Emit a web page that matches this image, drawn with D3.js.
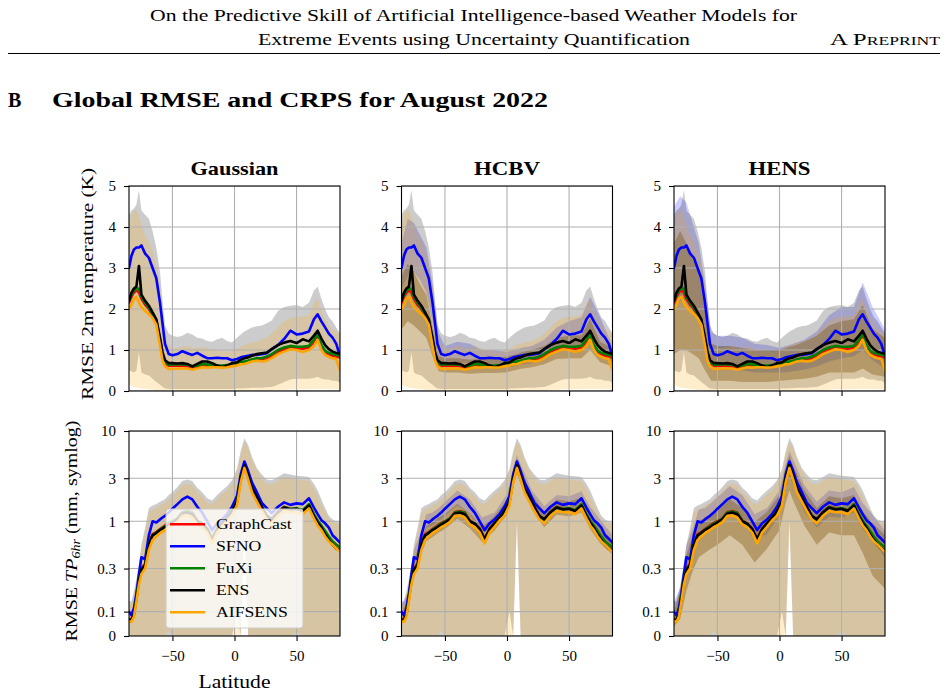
<!DOCTYPE html>
<html lang="en">
<head>
<meta charset="UTF-8">
<title>Global RMSE and CRPS for August 2022</title>
<script src="https://cdn.jsdelivr.net/npm/d3@7"></script>
<style>
  body { margin: 0; background: #fff; }
  text { font-family: "Liberation Serif", "DejaVu Serif", serif; fill: #000; }
  .grid line { stroke: #b0b0b0; stroke-width: 1.1; }
  .axis path { display: none; }
  .axis line { stroke: #000; stroke-width: 1.1; }
  .axis text { font-size: 15px; font-family: "Liberation Serif", serif; }
</style>
</head>
<body>
<script>
// ---- data ----
var latitude = [-85,-83,-81,-79,-77,-75,-72,-69,-66,-63,-60,-58,-56,-53,-50,-46,-42,-38,-34,-30,
  -26,-22,-18,-14,-10,-6,-2,2,5,8,11,14,18,22,26,30,35,40,45,50,55,60,64,67,70,73,76,79,82,85];
var latCoarse = [-85,-80,-75,-70,-65,-60,-55,-50,-40,-30,-20,-10,0,5,8,11,20,30,40,50,60,67,75,85];

var models = ["GraphCast", "SFNO", "FuXi", "ENS", "AIFSENS"];
var methods = ["Gaussian", "HCBV", "HENS"];
var t2mTicks = [0, 1, 2, 3, 4, 5];
var tpTicks = [0, 0.1, 0.3, 1, 3, 10];
var tpTickLabels = ["0", "0.1", "0.3", "1", "3", "10"];
var latTicks = [-50, 0, 50];

// RMSE 2m temperature (K)
var t2mGraphCast = [2.15,2.30,2.40,2.45,2.40, 2.25,2.10,2.00,1.85,1.70, 1.20,0.85,0.68,0.62,0.62, 0.62,0.62,0.60,0.56,0.58,
  0.62,0.62,0.60,0.60,0.60, 0.60,0.63,0.65,0.68,0.70, 0.73,0.76,0.78,0.78,0.80, 0.86,0.96,1.02,1.08,1.05,
  1.03,1.06,1.20,1.35,1.10, 0.95,0.90,0.86,0.84,0.82];
var t2mSfno = [3.00,3.30,3.45,3.50,3.50, 3.55,3.35,3.25,3.00,2.75, 2.15,1.65,1.15,0.90,0.87, 0.90,0.97,0.92,0.88,0.93,
  0.86,0.80,0.80,0.81,0.80, 0.80,0.75,0.78,0.82,0.84, 0.86,0.88,0.88,0.90,0.92, 1.02,1.12,1.27,1.47,1.38,
  1.40,1.45,1.75,1.87,1.70, 1.55,1.40,1.30,1.15,0.85];
var t2mFuxi = [2.20,2.35,2.45,2.50,2.50, 2.30,2.15,2.03,1.88,1.72, 1.25,0.90,0.70,0.64,0.65, 0.65,0.65,0.64,0.60,0.62,
  0.66,0.65,0.63,0.62,0.62, 0.63,0.66,0.68,0.70,0.72, 0.74,0.77,0.80,0.80,0.84, 0.90,1.00,1.06,1.10,1.08,
  1.08,1.10,1.25,1.40,1.12, 0.98,0.93,0.90,0.88,0.86];
var t2mEns = [2.20,2.40,2.50,2.55,3.05, 2.35,2.20,2.08,1.92,1.75, 1.30,0.95,0.75,0.68,0.68, 0.67,0.68,0.66,0.60,0.66,
  0.72,0.72,0.68,0.62,0.58, 0.62,0.68,0.70,0.76,0.80, 0.82,0.86,0.90,0.92,0.94, 1.02,1.12,1.18,1.22,1.17,
  1.26,1.21,1.35,1.47,1.28, 1.12,1.02,0.96,0.93,0.90];
var t2mAifsens = [2.00,2.10,2.25,2.30,2.15, 2.05,1.95,1.88,1.78,1.62, 1.10,0.75,0.60,0.54,0.54, 0.55,0.55,0.55,0.52,0.55,
  0.58,0.57,0.58,0.58,0.57, 0.58,0.60,0.62,0.65,0.66, 0.69,0.72,0.74,0.72,0.74, 0.80,0.90,0.96,1.02,1.00,
  0.95,1.00,1.10,1.25,1.00, 0.88,0.83,0.80,0.78,0.50];

// ensemble spread, 2m temperature
var t2mEnsLo = [0.50,0.48,0.45,0.50,0.95, 0.45,0.40,0.38,0.30,0.22, 0.15,0.10,0.06,0.05,0.05, 0.05,0.05,0.05,0.05,0.05,
  0.05,0.05,0.05,0.05,0.05, 0.05,0.05,0.06,0.06,0.07, 0.07,0.08,0.08,0.08,0.09, 0.10,0.15,0.22,0.28,0.30,
  0.30,0.30,0.32,0.35,0.30, 0.28,0.28,0.25,0.25,0.20];
var t2mEnsHi = [4.30,4.40,4.45,4.55,4.90, 4.40,4.30,4.20,3.90,3.50, 2.90,2.20,1.60,1.40,1.35, 1.32,1.35,1.42,1.38,1.30,
  1.28,1.22,1.20,1.26,1.30, 1.22,1.18,1.30,1.38,1.45, 1.50,1.55,1.58,1.60,1.65, 1.72,1.95,2.05,2.08,2.10,
  2.05,2.15,2.45,2.55,2.25, 2.00,1.80,1.70,1.55,1.40];
var t2mAifsLo = [0.15,0.12,0.10,0.08,0.08, 0.06,0.05,0.04,0.03,0.02, 0.02,0.01,0.01,0.01,0.01, 0.01,0.01,0.01,0.01,0.01,
  0.01,0.01,0.01,0.01,0.01, 0.01,0.01,0.01,0.01,0.01, 0.01,0.01,0.01,0.01,0.01, 0.01,0.02,0.03,0.04,0.04,
  0.04,0.05,0.05,0.05,0.05, 0.05,0.05,0.04,0.04,0.03];
var t2mAifsHi = [4.00,4.30,4.40,4.40,4.25, 4.05,3.80,3.65,3.40,3.05, 2.60,1.90,1.35,1.12,1.05, 1.05,1.08,1.10,1.05,1.05,
  1.08,1.05,1.00,1.00,0.98, 0.95,0.98,1.02,1.08,1.12, 1.15,1.18,1.20,1.25,1.30, 1.40,1.55,1.70,1.78,1.82,
  1.82,1.85,2.15,2.25,1.95, 1.75,1.60,1.50,1.45,1.35];

// uncertainty bands of the deterministic models, 2m temperature
var t2mHcbvSfnoLo = [2.5,2.8,2.9,2.7,2.4, 1.7,0.75,0.65,0.7,0.68, 0.6,0.6,0.58,0.6,0.62, 0.64,0.68,0.78,0.95,1.05, 1.1,1.4,1.0,0.7];
var t2mHcbvSfnoHi = [3.6,4.2,4.1,3.8,3.5, 2.6,1.4,1.1,1.2,1.15, 1.0,1.0,0.95,1.0,1.02, 1.05,1.1,1.25,1.55,1.7, 1.8,2.3,1.8,1.1];
var t2mHcbvDetLo = [1.5,1.7,1.6,1.45,1.3, 0.85,0.48,0.45,0.45,0.42, 0.44,0.44,0.46,0.5,0.52, 0.54,0.58,0.65,0.78,0.8, 0.8,1.0,0.7,0.6];
var t2mHcbvDetHi = [2.8,3.1,2.9,2.6,2.35, 1.6,0.85,0.8,0.8,0.76, 0.8,0.8,0.84,0.88,0.9, 0.94,1.0,1.1,1.3,1.35, 1.36,1.75,1.2,1.05];
var t2mHensSfnoLo = [2.0,2.2,2.2,2.0,1.8, 1.2,0.55,0.5,0.52,0.5, 0.45,0.45,0.45,0.46,0.47, 0.48,0.52,0.6,0.72,0.8, 0.85,1.0,0.75,0.55];
var t2mHensSfnoHi = [4.5,4.75,4.6,4.1,3.6, 2.6,1.45,1.35,1.35,1.3, 1.15,1.12,1.05,1.1,1.12, 1.15,1.25,1.45,1.85,2.05, 2.05,2.65,2.05,1.5];
var t2mHensDetLo = [0.9,1.0,1.0,0.9,0.8, 0.5,0.25,0.25,0.25,0.22, 0.22,0.22,0.25,0.26,0.27, 0.28,0.3,0.35,0.45,0.45, 0.45,0.55,0.4,0.35];
var t2mHensDetHi = [3.6,3.9,3.6,3.2,2.9, 2.0,1.15,1.1,1.1,1.05, 1.0,1.0,1.0,1.05,1.08, 1.1,1.2,1.35,1.6,1.7, 1.75,2.1,1.5,1.3];

// RMSE TP 6hr (mm)
var tpGraphCast = [0.070,0.070,0.095,0.150,0.230, 0.300,0.340,0.560,0.720,0.760, 0.820,0.860,0.900,0.960,1.000, 1.080,1.270,1.300,1.250,1.020,
  0.950,0.830,0.640,0.830,0.960, 1.100,1.300,1.650,2.950,4.100, 3.150,2.350,1.850,1.450,1.150, 1.050,1.280,1.450,1.380,1.380,
  1.320,1.520,1.180,1.000,0.880, 0.760,0.670,0.600,0.550,0.520];
var tpSfno = [0.100,0.085,0.110,0.160,0.260, 0.400,0.380,0.700,1.000,0.970, 1.050,1.100,1.150,1.250,1.380, 1.550,1.750,1.880,1.750,1.450,
  1.250,1.000,0.800,0.950,1.050, 1.200,1.450,1.900,3.300,4.600, 3.600,2.700,2.100,1.600,1.400, 1.230,1.450,1.620,1.520,1.580,
  1.550,1.800,1.420,1.200,1.030, 0.950,0.850,0.700,0.640,0.580];
var tpFuxi = [0.068,0.066,0.090,0.145,0.220, 0.290,0.330,0.550,0.700,0.750, 0.810,0.850,0.880,0.950,0.990, 1.070,1.250,1.280,1.240,1.010,
  0.940,0.820,0.630,0.820,0.950, 1.100,1.300,1.620,2.900,4.050, 3.100,2.300,1.820,1.430,1.140, 1.040,1.270,1.440,1.370,1.400,
  1.330,1.550,1.200,1.020,0.900, 0.780,0.680,0.600,0.550,0.520];
var tpEns = [0.065,0.065,0.090,0.140,0.220, 0.290,0.330,0.550,0.700,0.740, 0.800,0.830,0.860,0.920,0.970, 1.050,1.220,1.250,1.200,1.000,
  0.940,0.820,0.630,0.820,0.950, 1.100,1.300,1.650,3.000,4.200, 3.200,2.350,1.850,1.450,1.150, 1.050,1.250,1.420,1.350,1.380,
  1.300,1.500,1.150,0.970,0.850, 0.720,0.620,0.550,0.500,0.480];
var tpAifsens = [0.060,0.058,0.080,0.130,0.200, 0.260,0.300,0.480,0.620,0.680, 0.740,0.770,0.800,0.860,0.900, 0.980,1.150,1.150,1.100,0.920,
  0.860,0.750,0.570,0.750,0.870, 1.020,1.150,1.500,2.700,3.900, 2.900,2.100,1.650,1.300,1.050, 0.950,1.150,1.300,1.260,1.260,
  1.200,1.390,1.070,0.900,0.800, 0.680,0.600,0.550,0.500,0.460];

// ensemble spread, TP
var tpEnsLo = [0,0,0,0,0, 0,0,0,0,0, 0,0,0,0,0, 0,0,0,0,0, 0,0,0,0,0, 0,0,0.1,0,1.0, 0,0,0,0,0, 0,0,0,0,0, 0,0,0,0,0, 0,0,0,0,0];
var tpEnsHi = [0.13,0.13,0.17,0.23,0.33, 0.55,0.85,1.40,1.50,1.55, 1.65,1.70,1.75,1.95,2.10, 2.40,2.80,2.90,2.80,2.35,
  2.10,1.80,1.70,1.95,2.20, 2.45,2.85,3.80,6.00,8.30, 7.00,5.20,3.90,3.30,2.90, 2.85,3.10,3.40,3.30,3.20,
  3.15,3.10,2.60,2.20,1.75, 1.40,1.15,1.05,1.00,0.98];
var tpAifsLo = [0,0,0,0,0, 0,0,0,0,0, 0,0,0,0.02,0, 0,0,0,0,0, 0,0,0,0,0, 0,0,0,0,1.0, 0,0,0,0,0, 0,0,0,0,0.015, 0,0,0,0,0, 0,0,0,0,0];
var tpAifsHi = [0.12,0.12,0.15,0.20,0.30, 0.50,0.75,1.25,1.35,1.40, 1.50,1.55,1.60,1.75,1.90, 2.15,2.50,2.60,2.50,2.10,
  1.90,1.60,1.55,1.75,2.00, 2.20,2.60,3.50,5.50,7.60, 6.50,4.80,3.60,3.00,2.60, 2.55,2.80,3.10,3.00,2.90,
  2.85,2.80,2.30,1.90,1.50, 1.25,1.05,0.98,0.95,0.92];

// uncertainty bands of the deterministic models, TP
var tpHcbvSfnoLo = [0.08,0.11,0.33,0.5,0.85, 0.9,1.0,1.15,1.5,1.2, 0.75,0.88,1.4,2.8,3.9, 3.0,1.55,1.02,1.35,1.3, 1.5,1.0,0.72,0.48];
var tpHcbvSfnoHi = [0.12,0.16,0.48,0.72,1.2, 1.25,1.4,1.65,2.2,1.75, 1.1,1.25,2.0,3.9,5.4, 4.3,2.2,1.48,1.95,1.9, 2.15,1.45,1.05,0.7];
var tpHcbvDetLo = [0.055,0.1,0.25,0.41,0.6, 0.67,0.75,0.82,1.07,0.84, 0.59,0.79,1.19,2.42,3.36, 2.58,1.35,0.86,1.19,1.13, 1.25,0.82,0.57,0.43];
var tpHcbvDetHi = [0.085,0.145,0.36,0.6,0.88, 0.98,1.1,1.2,1.56,1.22, 0.86,1.15,1.74,3.54,4.92, 3.78,1.98,1.26,1.74,1.66, 1.82,1.2,0.84,0.62];
var tpHensSfnoLo = [0.07,0.09,0.27,0.4,0.7, 0.72,0.8,0.95,1.25,1.0, 0.62,0.72,1.15,2.3,3.2, 2.5,1.28,0.85,1.12,1.1, 1.25,0.82,0.6,0.4];
var tpHensSfnoHi = [0.13,0.18,0.55,0.82,1.35, 1.4,1.6,1.85,2.45,1.95, 1.2,1.4,2.2,4.4,6.0, 4.8,2.5,1.65,2.2,2.1, 2.4,1.6,1.18,0.78];
var tpHensDetLo = [0.04,0.07,0.17,0.28,0.4, 0.45,0.5,0.55,0.7,0.55, 0.35,0.5,0.8,1.6,2.2, 1.7,0.9,0.55,0.75,0.7, 0.7,0.45,0.25,0.18];
var tpHensDetHi = [0.1,0.17,0.42,0.7,1.0, 1.1,1.22,1.35,1.75,1.4, 0.98,1.28,1.95,3.9,5.3, 4.1,2.2,1.4,1.9,1.8, 1.95,1.3,0.95,0.7];

// ---- tables built from the arrays ----
var colors = {GraphCast: "#ff0000", SFNO: "#0000ff", FuXi: "#008000", ENS: "#000000", AIFSENS: "#ffa500"};
var lines = {
  t2m: {GraphCast: t2mGraphCast, SFNO: t2mSfno, FuXi: t2mFuxi, ENS: t2mEns, AIFSENS: t2mAifsens},
  tp:  {GraphCast: tpGraphCast, SFNO: tpSfno, FuXi: tpFuxi, ENS: tpEns, AIFSENS: tpAifsens}
};
var ensembleBands = {
  t2m: {ENS: [t2mEnsLo, t2mEnsHi], AIFSENS: [t2mAifsLo, t2mAifsHi]},
  tp:  {ENS: [tpEnsLo, tpEnsHi], AIFSENS: [tpAifsLo, tpAifsHi]}
};
var methodBands = {
  HCBV: {
    t2m: {GraphCast: [t2mHcbvDetLo, t2mHcbvDetHi], SFNO: [t2mHcbvSfnoLo, t2mHcbvSfnoHi], FuXi: [t2mHcbvDetLo, t2mHcbvDetHi]},
    tp:  {GraphCast: [tpHcbvDetLo, tpHcbvDetHi], SFNO: [tpHcbvSfnoLo, tpHcbvSfnoHi], FuXi: [tpHcbvDetLo, tpHcbvDetHi]}
  },
  HENS: {
    t2m: {GraphCast: [t2mHensDetLo, t2mHensDetHi], SFNO: [t2mHensSfnoLo, t2mHensSfnoHi], FuXi: [t2mHensDetLo, t2mHensDetHi]},
    tp:  {GraphCast: [tpHensDetLo, tpHensDetHi], SFNO: [tpHensSfnoLo, tpHensSfnoHi], FuXi: [tpHensDetLo, tpHensDetHi]}
  }
};
var rows = ["t2m", "tp"];

// ---- layout ----
var W = 948, H = 697;
var colLeft = [129, 401.5, 674], pw = 211;
var rowTop = [186, 431], ph = 205;
var serif = '"Liberation Serif", "DejaVu Serif", serif';

// symlog-like transform used for the precipitation axis
var linThresh = 0.1, linSpan = 0.27;
function symT(v) {
  return v <= linThresh ? linSpan * v / linThresh : linSpan + Math.log10(v / linThresh);
}

var svg = d3.select("body").append("svg").attr("width", W).attr("height", H);
var defs = svg.append("defs");

// page header
svg.append("text").attr("x", 473.5).attr("y", 21).attr("text-anchor", "middle")
  .style("font-size", "17px").attr("textLength", 647).attr("lengthAdjust", "spacingAndGlyphs")
  .text("On the Predictive Skill of Artificial Intelligence-based Weather Models for");
svg.append("text").attr("x", 474).attr("y", 45).attr("text-anchor", "middle")
  .style("font-size", "17px").attr("textLength", 432).attr("lengthAdjust", "spacingAndGlyphs")
  .text("Extreme Events using Uncertainty Quantification");
svg.append("text").attr("x", 940).attr("y", 45).attr("text-anchor", "end")
  .style("font-size", "17px").style("font-variant", "small-caps")
  .attr("textLength", 110).attr("lengthAdjust", "spacingAndGlyphs")
  .text("A Preprint");
svg.append("line").attr("x1", 8).attr("x2", 940).attr("y1", 53.5).attr("y2", 53.5)
  .attr("stroke", "#000").attr("stroke-width", 1.2);

svg.append("text").attr("x", 8).attr("y", 107).style("font-size", "20px").style("font-weight", "bold").text("B");
svg.append("text").attr("x", 52).attr("y", 107).style("font-size", "20px").style("font-weight", "bold")
  .attr("textLength", 496).attr("lengthAdjust", "spacingAndGlyphs")
  .text("Global RMSE and CRPS for August 2022");

rows.forEach(function(row, r) {
  methods.forEach(function(method, c) {
    var left = colLeft[c], top = rowTop[r];
    var x = d3.scaleLinear().domain([-85, 85]).range([left, left + pw]);
    var y, yv, yTickVals;
    if (row === "t2m") {
      y = d3.scaleLinear().domain([0, 5]).range([top + ph, top]);
      yv = function(v) { return y(v); };
      yTickVals = t2mTicks;
    } else {
      y = d3.scaleLinear().domain([symT(0), symT(10)]).range([top + ph, top]);
      yv = function(v) { return y(symT(v)); };
      yTickVals = tpTicks.map(symT);
    }

    var clipId = "clip-" + r + "-" + c;
    defs.append("clipPath").attr("id", clipId).append("rect")
      .attr("x", left).attr("y", top).attr("width", pw).attr("height", ph);

    var g = svg.append("g");
    var plot = g.append("g").attr("clip-path", "url(#" + clipId + ")");

    // shaded uncertainty bands
    models.forEach(function(m) {
      var band = null, lat = null;
      if (ensembleBands[row][m]) { band = ensembleBands[row][m]; lat = latitude; }
      else if (methodBands[method] && methodBands[method][row][m]) { band = methodBands[method][row][m]; lat = latCoarse; }
      if (!band) return;
      var area = d3.area()
        .x(function(i) { return x(lat[i]); })
        .y0(function(i) { return yv(band[0][i]); })
        .y1(function(i) { return yv(band[1][i]); });
      plot.append("path").attr("d", area(d3.range(lat.length)))
        .attr("fill", colors[m]).attr("fill-opacity", 0.2);
    });

    // grid
    var grid = plot.append("g").attr("class", "grid");
    latTicks.forEach(function(t) {
      grid.append("line").attr("x1", x(t)).attr("x2", x(t)).attr("y1", top).attr("y2", top + ph);
    });
    yTickVals.forEach(function(t) {
      grid.append("line").attr("x1", left).attr("x2", left + pw).attr("y1", y(t)).attr("y2", y(t));
    });

    // RMSE lines
    models.forEach(function(m) {
      var line = d3.line()
        .x(function(d, i) { return x(latitude[i]); })
        .y(function(d) { return yv(d); });
      plot.append("path").attr("d", line(lines[row][m]))
        .attr("fill", "none").attr("stroke", colors[m]).attr("stroke-width", 2.6)
        .attr("stroke-linejoin", "round").attr("stroke-linecap", "round");
    });

    // axes
    var yAxis = d3.axisLeft(y).tickValues(yTickVals).tickSize(5).tickPadding(8);
    if (row === "t2m") yAxis.tickFormat(d3.format("d"));
    else yAxis.tickFormat(function(d, i) { return tpTickLabels[i]; });
    var ya = g.append("g").attr("class", "axis").attr("transform", "translate(" + left + ",0)").call(yAxis);
    ya.attr("font-family", null).attr("font-size", null);
    ya.selectAll("text").style("font-family", serif).style("font-size", "15px");

    var xAxis = d3.axisBottom(x).tickValues(latTicks).tickSize(5).tickPadding(9)
      .tickFormat(r === 1 ? d3.format("d") : function() { return ""; });
    var xa = g.append("g").attr("class", "axis").attr("transform", "translate(0," + (top + ph) + ")").call(xAxis);
    xa.attr("font-family", null).attr("font-size", null);
    xa.selectAll("text").style("font-family", serif).style("font-size", "15px");

    g.append("rect").attr("x", left).attr("y", top).attr("width", pw).attr("height", ph)
      .attr("fill", "none").attr("stroke", "#000").attr("stroke-width", 1.1);

    if (r === 0) {
      var tw = {Gaussian: 88, HCBV: 66, HENS: 62};
      svg.append("text").attr("x", left + pw / 2).attr("y", 175).attr("text-anchor", "middle")
        .style("font-size", "19px").style("font-weight", "bold")
        .attr("textLength", tw[method]).attr("lengthAdjust", "spacingAndGlyphs")
        .text(method);
    }
  });
});

// axis labels
svg.append("text").attr("transform", "translate(93,284) rotate(-90)").attr("text-anchor", "middle")
  .style("font-size", "17px").attr("textLength", 232).attr("lengthAdjust", "spacingAndGlyphs")
  .text("RMSE 2m temperature (K)");

var tpLabel = svg.append("text").attr("transform", "translate(77,531) rotate(-90)").attr("text-anchor", "middle")
  .style("font-size", "17px").attr("textLength", 221).attr("lengthAdjust", "spacingAndGlyphs");
tpLabel.append("tspan").text("RMSE ");
tpLabel.append("tspan").style("font-style", "italic").text("TP");
tpLabel.append("tspan").style("font-style", "italic").style("font-size", "12px").attr("dy", 3).text("6hr");
tpLabel.append("tspan").attr("dy", -3).text(" (mm, symlog)");

svg.append("text").attr("x", colLeft[0] + pw / 2).attr("y", 688).attr("text-anchor", "middle")
  .style("font-size", "18px").attr("textLength", 72).attr("lengthAdjust", "spacingAndGlyphs")
  .text("Latitude");

// legend (bottom-left panel)
var leg = svg.append("g");
leg.append("rect").attr("x", 166).attr("y", 509).attr("width", 137).attr("height", 119)
  .attr("rx", 3).attr("fill", "#fff").attr("fill-opacity", 0.8)
  .attr("stroke", "#cccccc").attr("stroke-width", 1);
models.forEach(function(m, i) {
  var cy = 524.3 + i * 22;
  leg.append("line").attr("x1", 170).attr("x2", 205).attr("y1", cy).attr("y2", cy)
    .attr("stroke", colors[m]).attr("stroke-width", 2.6);
  var t = leg.append("text").attr("x", 216).attr("y", cy + 5).style("font-size", "15px").text(m);
  var len = t.node().getComputedTextLength();
  t.attr("textLength", len * 1.18).attr("lengthAdjust", "spacingAndGlyphs");
});
</script>
</body>
</html>
